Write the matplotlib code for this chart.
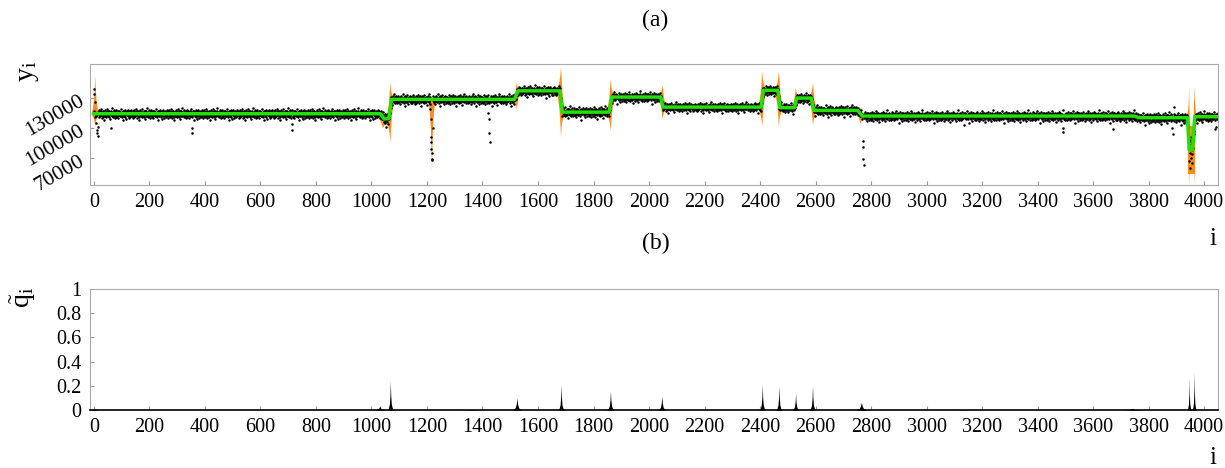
import matplotlib.pyplot as plt
import numpy as np

plt.rcParams['font.family'] = ['Liberation Serif', 'DejaVu Serif']
plt.rcParams['mathtext.fontset'] = 'custom'
plt.rcParams['mathtext.rm'] = 'Liberation Serif'
plt.rcParams['mathtext.it'] = 'Liberation Serif:italic'

n_points = 4050

# plateaus of the fitted level (green line): start, end, level
seg_start = [0, 1045, 1072, 1528, 1688, 1866, 2050, 2412, 2472, 2532, 2594, 2768, 3770, 3946, 3966]
seg_end = [1032, 1062, 1515, 1678, 1856, 2042, 2404, 2464, 2524, 2584, 2752, 3745, 3940, 3958, 4050]
seg_level = [114000, 109000, 128300, 136800, 115600, 130600, 120600, 137300, 120000, 129600,
             117300, 111700, 110000, 78000, 111000]
seg_spread = [1.0, 1.4, 1.0, 1.0, 1.1, 1.0, 0.9, 1.0, 1.0, 1.0, 1.0, 1.0, 1.0, 4.0, 1.0]

# scatter of the measurements around the level (thousands), read roughly off the cloud
noise = [
    1.2, -2.4, 3.1, -0.5, -4.1, 2.0, 0.6, -1.7, 4.3, -3.0,
    0.9, -0.8, 2.6, -5.0, 1.5, -2.2, 0.3, 3.6, -1.1, -3.6,
    2.3, 0.1, -2.9, 1.8, 5.2, -0.9, -1.5, 2.8, -4.5, 0.5,
    1.1, -2.0, 3.4, -0.2, -3.3, 1.7, -6.8, 2.4, 0.8, -1.3,
    3.9, -2.7, 0.2, -0.6, 2.1, -4.0, 1.4, -1.9, 4.9, -0.1,
    -2.5, 1.0, 3.0, -3.4, 0.7, -1.0, 2.7, -5.7, 1.9, -0.3,
    -2.1, 3.5, 0.4, -1.6, 6.3, -2.8, 1.3, -0.7, 2.2, -3.9,
    0.0, -1.4, 3.8, -2.3, 1.6, -0.4, -4.4, 2.5, 0.6, -1.2,
    4.1, -3.1, 0.9, -2.6, 1.2, -0.9, 2.9, -4.8, 0.3, 1.8,
    -1.8, 3.2, -0.6, -3.0, 2.0, 0.5, -2.0, 5.6, -1.1, -0.3,
    2.4, -3.7, 1.0, -1.5, 3.3, -7.5, 0.8, -0.5, 2.6, -2.4,
    1.5, -1.0, 4.5, -3.2, 0.2, -0.8, 1.9, -5.3, 2.8, -1.7,
    0.4, 3.7, -2.2, -0.1, 1.3, -4.3, 2.1,
]
noise_scale = 0.9

# single points far from the level: (index, value)
outliers = [
    (0, 139000), (1, 134000), (3, 126000), (6, 112000), (8, 105000), (10, 98000),
    (12, 95000), (13, 92000), (15, 101000), (60, 99600), (352, 99600), (354, 95000),
    (712, 104000), (714, 98000),
    (1210, 124000), (1212, 119000), (1213, 109000), (1214, 90600), (1215, 85600),
    (1216, 79000), (1217, 69000), (1218, 68000), (1219, 75000), (1220, 100000),
    (1420, 115000), (1422, 109000), (1424, 94600), (1426, 86300),
    (2770, 86600), (2771, 80600), (2772, 69000), (2773, 63300),
    (3135, 103000), (3490, 100000), (3491, 95600), (3670, 99000),
    (3886, 100000), (3887, 94000), (3893, 120600), (4040, 99000), (4042, 101000),
]

# orange uncertainty band around change points: centre, top, bottom, half width
band_c = [3, 1040, 1066, 1216, 1522, 1681, 1860, 2047, 2406, 2466, 2527, 2589, 2760, 3944, 3963]
band_top = [152000, 113000, 145600, 131000, 145600, 161000, 149000, 143300, 157300, 156600,
            140600, 145600, 120600, 141000, 142000]
band_bot = [101000, 100000, 85600, 57000, 119000, 90600, 97300, 109000, 102300, 100600,
            117300, 102300, 104000, 43000, 43000]
band_w = [14, 38, 18, 13, 18, 18, 18, 18, 18, 18, 18, 18, 22, 10, 10]
# wide block of uncertainty in the deep dip: start, end, bottom, top
block = [(3941, 3967, 54000, 102000)]

# bottom panel: change point probability peaks
q_pos = [5, 1030, 1068, 1360, 1524, 1683, 1861, 2046, 2408, 2468, 2528, 2589, 2765, 3130, 3740, 3946, 3964]
q_h = [0.012, 0.035, 0.24, 0.004, 0.10, 0.21, 0.16, 0.115, 0.21, 0.20, 0.14, 0.20, 0.064, 0.003,
       0.014, 0.26, 0.31]
q_w = [15, 24, 12, 70, 20, 12, 14, 16, 12, 12, 13, 12, 26, 60, 50, 8, 8]

# needle profile of a peak
shape_x = np.array([-1, -0.6, -0.3, -0.12, 0, 0.12, 0.3, 0.6, 1])
shape_q = np.array([0, 0.06, 0.2, 0.5, 1, 0.5, 0.2, 0.06, 0])
shape_band = np.array([0, 0.15, 0.4, 0.7, 1, 0.7, 0.4, 0.15, 0])

# green level line
green_x = []
green_y = []
for s, e, lv in zip(seg_start, seg_end, seg_level):
    green_x += [s, e]
    green_y += [lv, lv]

idx = np.arange(n_points)
base = np.interp(idx, green_x, green_y)
spread = np.ones(n_points)
for s, e, sp in zip(seg_start, seg_end, seg_spread):
    spread[s:e + 1] = sp
y = base + spread * np.array([noise[i % len(noise)] for i in idx]) * 1000 * noise_scale
for i, v in outliers:
    y[i] = v

fig = plt.figure(figsize=(12.25, 4.68), dpi=100)
ax1 = fig.add_axes([0.0735, 0.6047, 0.9208, 0.2585])
ax2 = fig.add_axes([0.0735, 0.1239, 0.9208, 0.2585])

orange = '#ff8c1a'
for c, top, bot, w in zip(band_c, band_top, band_bot, band_w):
    xs = c + w * shape_x
    g = np.interp(xs, green_x, green_y)
    ax1.fill_between(xs, g, g + shape_band * (top - g), color=orange, lw=0, zorder=1)
    ax1.fill_between(xs, g - shape_band * (g - bot), g, color=orange, lw=0, zorder=1)
for s, e, lo, hi in block:
    ax1.fill_between([s, e], [lo, lo], [hi, hi], color=orange, lw=0, zorder=1)

ax1.plot(idx, y, 'o', color='black', markersize=1.8, markeredgewidth=0, zorder=2)
ax1.plot(green_x, green_y, color='#22e000', lw=2.5, zorder=3)

for c, h, w in zip(q_pos, q_h, q_w):
    ax2.fill_between(c + w * shape_x, 0, h * shape_q, color='black', lw=0)

for ax in (ax1, ax2):
    ax.set_xlim(-14, 4050)
    ax.set_xticks(np.arange(0, 4001, 200))
    ax.tick_params(direction='in', length=3, color='#999999', labelsize=14.5, pad=6)
    for sp in ax.spines.values():
        sp.set_color('#aaaaaa')

ax1.set_ylim(43000, 163500)
ax1.set_yticks([70000, 100000, 130000])
ax1.set_yticklabels(['70000', '100000', '130000'], rotation=30, ha='right',
                    rotation_mode='anchor', fontsize=15.5)
ax1.tick_params(axis='y', pad=6)

ax2.set_ylim(0, 1)
ax2.set_yticks([0, 0.2, 0.4, 0.6, 0.8, 1])
ax2.set_yticklabels(['0', '0.2', '0.4', '0.6', '0.8', '1'])
ax2.spines['bottom'].set_color('black')
ax2.spines['bottom'].set_linewidth(1.2)

fig.text(0.535, 0.957, '(a)', ha='center', va='center', fontsize=17)
fig.text(0.535, 0.479, '(b)', ha='center', va='center', fontsize=17)
fig.text(0.99, 0.49, 'i', ha='center', va='center', fontsize=18)
fig.text(0.99, 0.022, 'i', ha='center', va='center', fontsize=18)
fig.text(0.023, 0.848, r'$\mathrm{y}_\mathrm{i}$', rotation=90, ha='center', va='center', fontsize=20)
fig.text(0.019, 0.365, r'$\tilde{\mathrm{q}}_\mathrm{i}$', rotation=90, ha='center', va='center',
         fontsize=20)

fig.savefig('out.png', dpi=100)
